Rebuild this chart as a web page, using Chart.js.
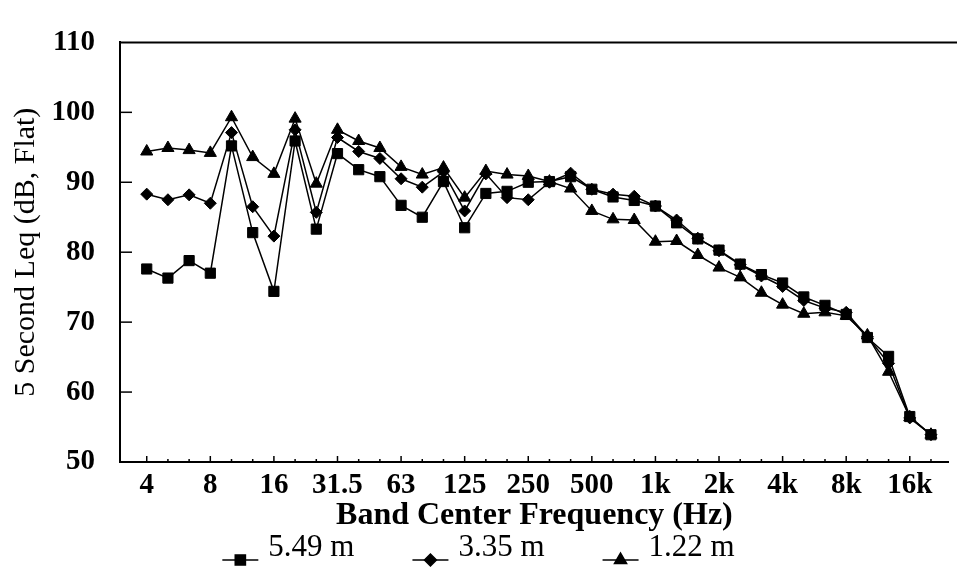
<!DOCTYPE html>
<html>
<head>
<meta charset="utf-8">
<script src="https://cdn.jsdelivr.net/npm/chart.js@4.4.1/dist/chart.umd.min.js"></script>
<style>
  html, body { margin: 0; padding: 0; background: #fff; }
  #wrap { width: 957px; height: 569px; position: relative; }
</style>
</head>
<body>
<div id="wrap"><canvas id="c" width="957" height="569"></canvas></div>
<script>
// One-third octave band centres (Hz)
const bands = ['4','5','6.3','8','10','12.5','16','20','25','31.5','40','50','63','80','100','125','160','200','250','315','400','500','630','800','1k','1.25k','1.6k','2k','2.5k','3.15k','4k','5k','6.3k','8k','10k','12.5k','16k','20k'];

// Every third band gets a label on the axis
const labelledBands = ['4','8','16','31.5','63','125','250','500','1k','2k','4k','8k','16k'];

// 5 second Leq (dB, flat) at three measurement distances
const leq549 = [77.6, 76.3, 78.8, 77.0, 95.2, 82.8, 74.4, 95.9, 83.3, 94.1, 91.8, 90.8, 86.7, 85.0, 90.1, 83.5, 88.4, 88.7, 90.0, 90.1, 90.8, 89.0, 87.9, 87.4, 86.6, 84.2, 81.9, 80.3, 78.3, 76.8, 75.6, 73.6, 72.4, 71.1, 67.8, 65.1, 56.5, 53.9];
const leq335 = [88.3, 87.5, 88.2, 87.0, 97.1, 86.5, 82.3, 97.5, 85.7, 96.4, 94.4, 93.4, 90.5, 89.3, 91.5, 85.9, 91.2, 87.8, 87.5, 90.0, 91.3, 89.0, 88.3, 88.0, 86.6, 84.6, 82.0, 80.2, 78.2, 76.6, 75.1, 73.1, 72.0, 71.4, 67.9, 64.1, 56.3, 53.9];
const leq122 = [94.4, 94.9, 94.6, 94.2, 99.3, 93.6, 91.2, 99.1, 89.8, 97.5, 95.9, 94.9, 92.2, 91.1, 92.1, 87.8, 91.6, 91.1, 90.9, 90.1, 89.1, 85.9, 84.7, 84.6, 81.5, 81.6, 79.6, 77.8, 76.4, 74.2, 72.5, 71.2, 71.4, 70.9, 68.1, 62.9, 56.4, 53.9];

const seriesNames = ['5.49 m', '3.35 m', '1.22 m'];
const yTicks = [50, 60, 70, 80, 90, 100, 110];

const SERIF = "'Liberation Serif', 'Times New Roman', serif";
const INK = '#000';

function series(label, values, style, radius) {
  return {
    label,
    data: values.map((v, i) => ({ x: i, y: v })),
    borderColor: INK,
    backgroundColor: INK,
    borderWidth: 1.5,
    pointStyle: style,
    pointRadius: radius,
    pointHoverRadius: radius,
    pointBorderWidth: 1,
    pointBorderColor: INK,
    pointBackgroundColor: INK,
    tension: 0
  };
}

// Inward tick marks, the open-right frame, and the bottom legend
const frame = {
  id: 'frame',
  afterDatasetsDraw(chart) {
    const { ctx, chartArea: a, scales: { x, y } } = chart;
    ctx.save();
    ctx.strokeStyle = INK;
    // top rule running to the right edge
    ctx.lineWidth = 2;
    ctx.beginPath();
    ctx.moveTo(a.left - 1, a.top);
    ctx.lineTo(chart.width, a.top);
    ctx.stroke();
    // x ticks pointing up into the plot
    ctx.lineWidth = 1.5;
    bands.forEach((b, i) => {
      const px = x.getPixelForValue(i);
      const len = labelledBands.includes(b) ? 6 : 3;
      ctx.beginPath();
      ctx.moveTo(px, a.bottom);
      ctx.lineTo(px, a.bottom - len);
      ctx.stroke();
    });
    // y ticks pointing right into the plot
    yTicks.forEach(v => {
      if (v === y.min || v === y.max) return;
      const py = y.getPixelForValue(v);
      ctx.beginPath();
      ctx.moveTo(a.left, py);
      ctx.lineTo(a.left + 12, py);
      ctx.stroke();
    });
    ctx.restore();
  },
  afterDraw(chart) {
    const { ctx } = chart;
    const ds = chart.data.datasets;
    const font = '31px ' + SERIF;
    ctx.save();
    ctx.font = font;
    const lineLen = 36, gapText = 10, gapItem = 58;
    const widths = ds.map(d => ctx.measureText(d.label).width);
    const total = widths.reduce((s, w) => s + w, 0) + ds.length * (lineLen + gapText) + (ds.length - 1) * gapItem;
    let xPos = chart.width / 2 - total / 2;
    const textY = 548, markY = 560;
    ds.forEach((d, i) => {
      ctx.strokeStyle = INK;
      ctx.lineWidth = 1.5;
      ctx.beginPath();
      ctx.moveTo(xPos, markY);
      ctx.lineTo(xPos + lineLen, markY);
      ctx.stroke();
      ctx.fillStyle = INK;
      Chart.helpers.drawPoint(ctx, {
        pointStyle: d.pointStyle, radius: d.pointRadius, borderWidth: 1, rotation: 0
      }, xPos + lineLen / 2, markY);
      ctx.fillStyle = INK;
      ctx.textAlign = 'left';
      ctx.textBaseline = 'middle';
      ctx.font = font;
      ctx.fillText(d.label, xPos + lineLen + gapText, textY);
      xPos += lineLen + gapText + widths[i] + gapItem;
    });
    ctx.restore();
  }
};

new Chart(document.getElementById('c'), {
  type: 'line',
  data: {
    datasets: [
      series(seriesNames[0], leq549, 'rect', 7.2),
      series(seriesNames[1], leq335, 'rectRot', 6),
      series(seriesNames[2], leq122, 'triangle', 7)
    ]
  },
  options: {
    responsive: false,
    animation: false,
    devicePixelRatio: 1,
    layout: { padding: { top: 19, right: 0, bottom: 0, left: 0 } },
    plugins: {
      legend: { display: false },
      tooltip: { enabled: false },
      title: { display: false }
    },
    scales: {
      x: {
        type: 'linear',
        min: -1.261,
        max: 37.841,
        afterFit(scale) { scale.height = 107; },
        afterBuildTicks(scale) { scale.ticks = bands.map((_, i) => ({ value: i })); },
        grid: { display: false, drawTicks: false },
        border: { display: true, color: INK, width: 2 },
        ticks: {
          autoSkip: false,
          maxRotation: 0,
          padding: 6,
          color: INK,
          font: { family: SERIF, size: 29, weight: 'bold' },
          callback(v) {
            const b = bands[v];
            return labelledBands.includes(b) ? b : '';
          }
        },
        title: {
          display: true,
          text: 'Band Center Frequency (Hz)',
          color: INK,
          font: { family: SERIF, size: 32, weight: 'bold' },
          padding: { top: 0, bottom: 34 }
        }
      },
      y: {
        min: 50,
        max: 110,
        afterFit(scale) { scale.width = 120; },
        afterBuildTicks(scale) { scale.ticks = yTicks.map(v => ({ value: v })); },
        grid: { display: false, drawTicks: false },
        border: { display: true, color: INK, width: 2 },
        ticks: {
          padding: 25,
          color: INK,
          font: { family: SERIF, size: 29, weight: 'bold' }
        },
        title: {
          display: true,
          text: '5 Second Leq (dB, Flat)',
          color: INK,
          font: { family: SERIF, size: 30 },
          padding: { top: 8, bottom: 0 }
        }
      }
    }
  },
  plugins: [frame]
});
</script>
</body>
</html>
